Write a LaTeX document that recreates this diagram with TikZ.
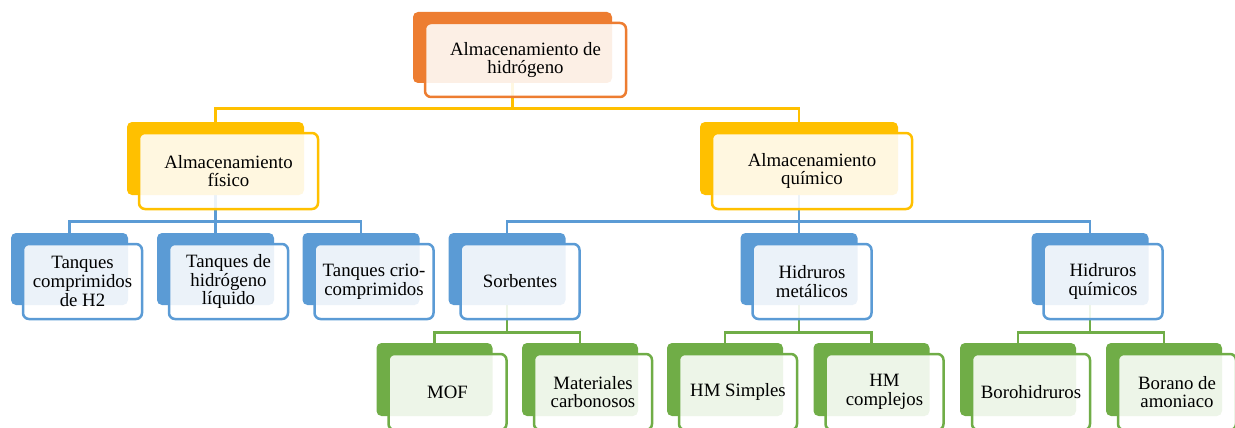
\documentclass[tikz,border=0pt]{standalone}
\usepackage{fontspec}
\setmainfont{Liberation Serif}
\usetikzlibrary{calc}
\definecolor{cOrange}{HTML}{ED7D31}
\definecolor{cGold}{HTML}{FFC000}
\definecolor{cBlue}{HTML}{5B9BD5}
\definecolor{cGreen}{HTML}{70AD47}
\pgfdeclarelayer{background}
\pgfsetlayers{background,main}
\tikzset{
  backbox/.style={rectangle, rounded corners=5pt, fill=#1, inner sep=0pt},
  frontbox/.style={rectangle, rounded corners=6pt, draw=#1, line width=2.5pt,
    fill=white, fill opacity=0.88, text opacity=1, inner sep=0pt, align=center,
    font=\fontsize{18.8}{18.6}\selectfont},
  link/.style={draw=#1, line width=2.6pt},
}
% name, x, y, width, height, colour, label
\newcommand\boxpair[7]{%
  \node[backbox=#6, minimum width=#4pt, minimum height=#5pt] (#1b) at (#2,#3) {};
  \node[frontbox=#6, minimum width={#4pt+2pt}, minimum height={#5pt+3pt}]
    (#1) at ($(#1b.center)+(13,12.5)$) {#7};
}
\begin{document}
\begin{tikzpicture}[x=1pt,y=-1pt]
\useasboundingbox (0,0) rectangle (1235,428);
\clip (0,0) rectangle (1235,428);

% level 0
\boxpair{root}{512.5}{47.5}{199}{71}{cOrange}{Almacenamiento de\\hidrógeno}
% level 1
\boxpair{fis}{215.5}{158.5}{177}{73}{cGold}{Almacenamiento\\físico}
\boxpair{qui}{799}{158.5}{198}{73}{cGold}{Almacenamiento\\químico}
% level 2
\boxpair{tca}{69.5}{269}{117}{72}{cBlue}{Tanques\\comprimidos\\de H2}
\boxpair{tli}{215.5}{269}{117}{72}{cBlue}{Tanques de\\hidrógeno\\líquido}
\boxpair{tcr}{361}{269}{117}{72}{cBlue}{Tanques crio-\\comprimidos}
\boxpair{sor}{507}{269}{117}{72}{cBlue}{Sorbentes}
\boxpair{hme}{799}{269}{117}{72}{cBlue}{Hidruros\\metálicos}
\boxpair{hqu}{1090}{269}{117}{72}{cBlue}{Hidruros\\químicos}
% level 3
\boxpair{mof}{434.5}{379.5}{116}{73}{cGreen}{MOF}
\boxpair{mat}{580}{379.5}{116}{73}{cGreen}{Materiales\\carbonosos}
\boxpair{hms}{725}{379.5}{116}{73}{cGreen}{HM Simples}
\boxpair{hmc}{871.5}{379.5}{116}{73}{cGreen}{HM\\complejos}
\boxpair{bor}{1018}{379.5}{116}{73}{cGreen}{Borohidruros}
\boxpair{bam}{1164}{379.5}{116}{73}{cGreen}{Borano de\\amoniaco}

\begin{pgfonlayer}{background}
  \draw[link=cGold] (rootb.south) -- ++(0,25) -| (fisb.north);
  \draw[link=cGold] (rootb.south) -- ++(0,25) -| (quib.north);
  \foreach \c in {tca,tli,tcr}
    \draw[link=cBlue] (fisb.south) -- ++(0,26) -| (\c b.north);
  \foreach \c in {sor,hme,hqu}
    \draw[link=cBlue] (quib.south) -- ++(0,26) -| (\c b.north);
  \foreach \c in {mof,mat}
    \draw[link=cGreen] (sorb.south) -- ++(0,27) -| (\c b.north);
  \foreach \c in {hms,hmc}
    \draw[link=cGreen] (hmeb.south) -- ++(0,27) -| (\c b.north);
  \foreach \c in {bor,bam}
    \draw[link=cGreen] (hqub.south) -- ++(0,27) -| (\c b.north);
\end{pgfonlayer}
\end{tikzpicture}
\end{document}
